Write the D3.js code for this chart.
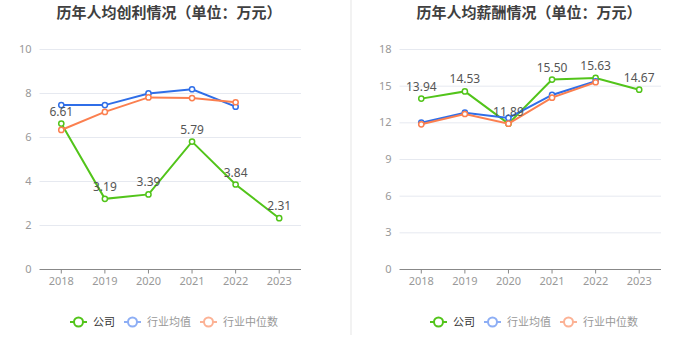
<!DOCTYPE html>
<html><head><meta charset="utf-8">
<script src="https://cdn.jsdelivr.net/npm/d3@7/dist/d3.min.js"></script>
<style>body{margin:0;background:#fff}svg{display:block;font-family:"Noto Sans CJK SC","Noto Sans",sans-serif}</style>
</head><body><svg id="c" width="700" height="360"></svg>
<script>
const years = ["2018","2019","2020","2021","2022","2023"];
const seriesNames = ["公司","行业均值","行业中位数"];
const profitTitle = "历年人均创利情况（单位：万元）";
const profitCompany = [6.61,3.19,3.39,5.79,3.84,2.31];
const profitAvg = [7.45,7.45,7.98,8.17,7.38,null];
const profitMedian = [6.32,7.14,7.80,7.77,7.58,null];
const profitTicks = [0,2,4,6,8,10];
const salaryTitle = "历年人均薪酬情况（单位：万元）";
const salaryCompany = [13.94,14.53,11.89,15.50,15.63,14.67];
const salaryAvg = [11.97,12.79,12.36,14.24,15.36,null];
const salaryMedian = [11.84,12.68,11.89,14.02,15.28,null];
const salaryTicks = [0,3,6,9,12,15,18];

const colors = ["#52c41a","#2f6ee8","#fb7f4f"];
const legendIcon = ["#52c41a","#8daef5","#fcb295"];
const legendText = ["#333","#999","#999"];
const svg = d3.select("#c");

svg.append("rect").attr("x",350).attr("y",0).attr("width",2).attr("height",335).attr("fill","#f2f2f2");

function chart(ox, title, comp, avg, med, ticks){
  const g = svg.append("g");
  const x = d3.scaleBand().domain(years).range([ox+39.5, ox+301]);
  const y = d3.scaleLinear().domain([0, d3.max(ticks)]).range([269, 49]);
  const cx = d => x(d) + x.bandwidth()/2;
  g.append("text").attr("x", ox+169).attr("y", 18).attr("text-anchor","middle")
    .attr("font-size",15).attr("font-weight","bold").attr("fill","#404040").text(title);
  // grid
  g.selectAll(".grid").data(ticks.filter(t=>t>0)).join("line")
    .attr("x1", ox+39.5).attr("x2", ox+301).attr("y1", d=>y(d)+0.5).attr("y2", d=>y(d)+0.5)
    .attr("stroke","#e6e9f0").attr("stroke-width",1);
  const ya = d3.axisLeft(y).tickValues(ticks).tickSize(0).tickPadding(8);
  const yg = g.append("g").attr("transform",`translate(${ox+39.5},0)`).call(ya);
  yg.select(".domain").remove();
  yg.selectAll("text").attr("fill","#999").attr("font-size",11).attr("font-family","Noto Sans, sans-serif");
  const xa = d3.axisBottom(x).tickSize(4).tickPadding(4);
  const xg = g.append("g").attr("transform","translate(0,269.5)").call(xa);
  xg.select(".domain").attr("stroke","#888").attr("d",`M${ox+39.5},0H${ox+301}`);
  xg.selectAll(".tick line").attr("stroke","#888");
  xg.selectAll("text").attr("fill","#999").attr("font-size",11).attr("font-family","Noto Sans, sans-serif");
  const data = [comp, avg, med];
  const line = d3.line().defined(d=>d.v!=null).x(d=>cx(d.y)).y(d=>y(d.v));
  data.forEach((arr,i)=>{
    const pts = years.map((yy,j)=>({y:yy,v:arr[j]}));
    g.append("path").datum(pts).attr("d",line).attr("fill","none").attr("stroke",colors[i]).attr("stroke-width",2);
    g.selectAll(null).data(pts.filter(p=>p.v!=null)).join("circle")
      .attr("cx",d=>cx(d.y)).attr("cy",d=>y(d.v)).attr("r",2.6)
      .attr("fill","#fff").attr("stroke",colors[i]).attr("stroke-width",1.5);
  });
  g.selectAll(".lbl").data(years.map((yy,j)=>({y:yy,v:comp[j]}))).join("text")
    .attr("x",d=>cx(d.y)).attr("y",d=>y(d.v)-8).attr("text-anchor","middle")
    .attr("font-size",12).attr("fill","#555").attr("font-family","Noto Sans, sans-serif")
    .text(d=>d.v.toFixed(2));
  // legend
  const lg = g.append("g");
  let lx = ox+70;
  seriesNames.forEach((n,i)=>{
    lg.append("line").attr("x1",lx).attr("x2",lx+17).attr("y1",322).attr("y2",322).attr("stroke",legendIcon[i]).attr("stroke-width",2);
    lg.append("circle").attr("cx",lx+8.5).attr("cy",322).attr("r",4.5).attr("fill","#fff").attr("stroke",legendIcon[i]).attr("stroke-width",2);
    const t = lg.append("text").attr("x",lx+23).attr("y",326).attr("font-size",11).attr("fill",legendText[i]).text(n);
    lx += 23 + t.node().getComputedTextLength() + 9;
  });
}
chart(0, profitTitle, profitCompany, profitAvg, profitMedian, profitTicks);
chart(360, salaryTitle, salaryCompany, salaryAvg, salaryMedian, salaryTicks);
</script></body></html>
